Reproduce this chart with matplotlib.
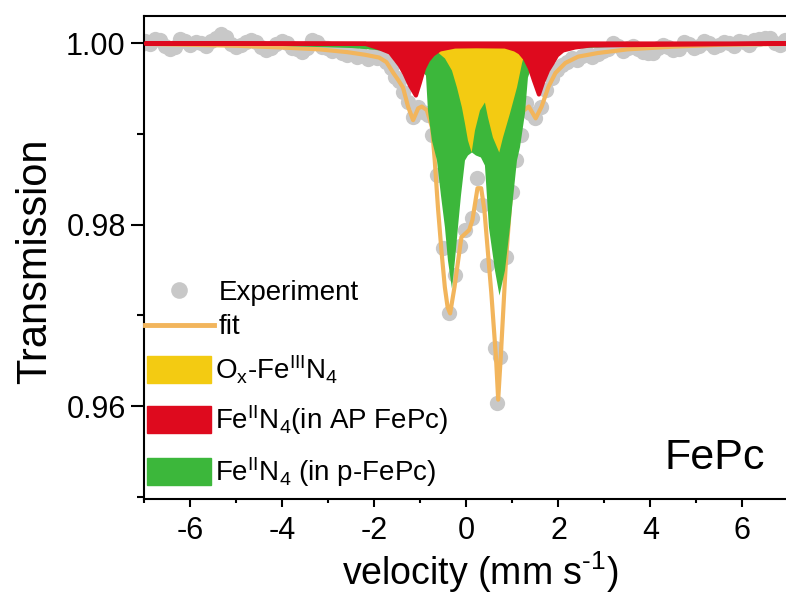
import numpy as np
import matplotlib
matplotlib.use('Agg')
import matplotlib.pyplot as plt
from matplotlib.lines import Line2D
from matplotlib.patches import Patch

plt.rcParams['font.family'] = ['Liberation Sans', 'DejaVu Sans']
plt.rcParams['mathtext.fontset'] = 'custom'
plt.rcParams['mathtext.rm'] = 'Liberation Sans'
plt.rcParams['mathtext.default'] = 'regular'
plt.rcParams['axes.unicode_minus'] = False

#_______________________________________________________________________________
# DATA

# experiment
v_exp = [-7.10, -6.99, -6.88, -6.77, -6.66, -6.55, -6.44, -6.33, -6.22, -6.11,
         -6.00, -5.89, -5.78, -5.67, -5.56, -5.45, -5.34, -5.23, -5.12, -5.01,
         -4.90, -4.79, -4.68, -4.57, -4.46, -4.35, -4.24, -4.13, -4.02, -3.91,
         -3.80, -3.69, -3.58, -3.47, -3.36, -3.25, -3.14, -3.03, -2.92, -2.81,
         -2.70, -2.59, -2.48, -2.37, -2.26, -2.15, -2.04, -1.94, -1.84, -1.74,
         -1.64, -1.55, -1.46, -1.37, -1.27, -1.16, -1.05, -0.94, -0.84, -0.75,
         -0.64, -0.52, -0.37, -0.25, -0.13, -0.03, 0.11, 0.24, 0.34, 0.45,
         0.62, 0.67, 0.73, 0.86, 0.99, 1.08, 1.18, 1.29, 1.38, 1.50,
         1.63, 1.74, 1.86, 1.97, 2.08, 2.19, 2.30, 2.41, 2.52, 2.63,
         2.74, 2.85, 2.96, 3.07, 3.18, 3.29, 3.40, 3.51, 3.62, 3.73,
         3.84, 3.95, 4.06, 4.17, 4.28, 4.39, 4.50, 4.61, 4.72, 4.83,
         4.94, 5.05, 5.16, 5.27, 5.38, 5.49, 5.60, 5.71, 5.82, 5.93,
         6.04, 6.15, 6.26, 6.37, 6.48, 6.59, 6.70, 6.81, 6.92, 7.03]
t_exp = [0.9998, 1.0002, 0.9999, 1.0004, 1.0003, 0.9997, 0.9993, 0.9996, 1.0004, 1.0002,
         0.9998, 1.0001, 1.0000, 0.9997, 1.0002, 1.0006, 1.0010, 1.0007, 0.9999, 0.9996,
         0.9998, 1.0001, 1.0003, 1.0001, 0.9996, 0.9992, 0.9994, 0.9999, 1.0002, 1.0000,
         0.9995, 0.9993, 0.9990, 0.9995, 1.0003, 1.0001, 0.9996, 0.9994, 0.9991, 0.9993,
         0.9989, 0.9987, 0.9990, 0.9985, 0.9987, 0.9982, 0.9987, 0.9984, 0.9985, 0.9979,
         0.9972, 0.9962, 0.9958, 0.9946, 0.9935, 0.9918, 0.9930, 0.9924, 0.9921, 0.9899,
         0.9855, 0.9774, 0.9703, 0.9744, 0.9776, 0.9794, 0.9807, 0.9851, 0.9822, 0.9755,
         0.9664, 0.9603, 0.9654, 0.9764, 0.9836, 0.9871, 0.9899, 0.9934, 0.9923, 0.9917,
         0.9930, 0.9948, 0.9961, 0.9970, 0.9976, 0.9979, 0.9983, 0.9981, 0.9986, 0.9989,
         0.9985, 0.9988, 0.9991, 0.9993, 1.0000, 0.9997, 0.9991, 0.9994, 0.9997, 0.9993,
         0.9990, 0.9989, 0.9989, 0.9994, 0.9998, 0.9996, 0.9992, 0.9993, 1.0001, 0.9999,
         0.9995, 0.9997, 1.0002, 1.0000, 0.9996, 0.9998, 1.0001, 1.0000, 0.9997, 1.0002,
         1.0001, 0.9998, 1.0003, 1.0004, 1.0006, 1.0005, 1.0000, 0.9998, 1.0003, 1.0002]

# fit
v_fit = [-7.0, -6.0, -5.0, -4.0, -3.2, -2.6, -2.2, -1.90, -1.74, -1.59,
         -1.48, -1.38, -1.27, -1.16, -1.05, -0.97, -0.86, -0.75, -0.69, -0.62,
         -0.54, -0.47, -0.41, -0.355, -0.26, -0.11, 0.06, 0.13, 0.24, 0.32,
         0.39, 0.54, 0.645, 0.69, 0.75, 0.86, 0.97, 1.03, 1.075, 1.14,
         1.20, 1.355, 1.505, 1.634, 1.785, 1.935, 2.15, 2.43, 2.86, 3.5,
         4.5, 5.5, 7.0]
t_fit = [0.9999, 0.9998, 0.9997, 0.9995, 0.9993, 0.9990, 0.9987, 0.9984, 0.9979, 0.9967,
         0.9959, 0.9951, 0.9930, 0.9915, 0.9928, 0.9930, 0.9926, 0.9907, 0.9871, 0.9819,
         0.9769, 0.9731, 0.9709, 0.9702, 0.9731, 0.9786, 0.9794, 0.9805, 0.9840, 0.9840,
         0.9816, 0.9725, 0.9651, 0.9607, 0.9658, 0.9761, 0.9836, 0.9871, 0.9896, 0.9915,
         0.9924, 0.9930, 0.9917, 0.9930, 0.9952, 0.9967, 0.9978, 0.9985, 0.9989, 0.9993,
         0.9996, 0.9998, 0.9999]

# Ox-Fe(III)N4
v_ox = [-7.0, -1.0, -0.739, -0.630, -0.478, -0.326, -0.217, -0.109, -0.043, 0.022,
        0.102, 0.174, 0.283, 0.391, 0.457, 0.565, 0.702, 0.783, 0.935, 1.087,
        1.196, 1.261, 1.326, 1.6, 7.0]
t_ox = [1.0, 0.99995, 0.99934, 0.99901, 0.99835, 0.99702, 0.99515, 0.99295, 0.99118, 0.98931,
        0.98799, 0.99041, 0.99262, 0.99350, 0.99185, 0.98964, 0.98799, 0.98964, 0.99229, 0.99515,
        0.99780, 0.99901, 0.99945, 0.99995, 1.0]

# Fe(II)N4 in AP FePc
v_ap = [-7.0, -2.2, -1.891, -1.674, -1.457, -1.348, -1.239, -1.109, -1.022, -0.935,
        -0.848, -0.739, -0.587, -0.261, 0.2, 0.826, 1.043, 1.152, 1.261, 1.37,
        1.457, 1.565, 1.652, 1.761, 1.87, 1.957, 2.087, 2.348, 2.674, 7.0]
t_ap = [1.0, 0.99995, 0.99945, 0.99901, 0.99758, 0.99658, 0.99537, 0.99427, 0.99570, 0.99725,
        0.99813, 0.99879, 0.99934, 0.99967, 0.99970, 0.99967, 0.99934, 0.99901, 0.99835, 0.99725,
        0.99592, 0.99438, 0.99570, 0.99702, 0.99791, 0.99868, 0.99923, 0.99956, 0.99978, 1.0]

# Fe(II)N4 in p-FePc
v_p = [-7.0, -4.5, -3.5, -2.5, -2.0, -1.6, -1.3, -0.891, -0.848, -0.761,
       -0.652, -0.565, -0.478, -0.413, -0.326, -0.261, -0.196, -0.130, -0.043, 0.022,
       0.109, 0.196, 0.304, 0.391, 0.478, 0.609, 0.707, 0.826, 0.935, 1.087,
       1.152, 1.261, 1.326, 1.478, 1.804, 2.348, 3.0, 4.5, 7.0]
t_p = [0.99995, 0.9998, 0.99965, 0.9995, 0.9993, 0.9990, 0.9985, 0.99647, 0.99262, 0.98931,
       0.98711, 0.98325, 0.97973, 0.97609, 0.97300, 0.97609, 0.97973, 0.98325, 0.98711, 0.98766,
       0.98799, 0.98766, 0.98744, 0.98656, 0.97973, 0.97499, 0.97223, 0.97499, 0.97973, 0.98711,
       0.98854, 0.99229, 0.99625, 0.99846, 0.99923, 0.99945, 0.9996, 0.9998, 0.99995]

#_______________________________________________________________________________
# PLOT
c_exp = '#c8c8c8'
c_fit = '#f2b55c'
c_ox = '#f3cb12'
c_ap = '#de0a1e'
c_p = '#3cb73b'

fig = plt.figure(figsize=(7.86, 5.94), dpi=100)
ax = fig.add_axes([0.1838, 0.1594, 0.8193, 0.8145])

ax.plot(v_exp, t_exp, 'o', ms=11, color=c_exp, mec='none', zorder=1)
ax.plot(v_fit, t_fit, '-', lw=3, color=c_fit, zorder=2)
ax.fill_between(v_p, 1.0, t_p, color=c_p, lw=0, zorder=3)
ax.fill_between(v_ox, 1.0, t_ox, color=c_ox, lw=0, zorder=4)
ax.fill_between(v_ap, 1.0, t_ap, facecolor=c_ap, edgecolor=c_ap, lw=3, zorder=5)

ax.set_xlim(-7, 7)
ax.set_ylim(0.94972, 1.00303)
ax.set_xticks([-6, -4, -2, 0, 2, 4, 6])
ax.set_xticks([-7, -5, -3, -1, 1, 3, 5], minor=True)
ax.set_yticks([0.96, 0.98, 1.00])
ax.set_yticks([0.95, 0.97, 0.99], minor=True)
ax.set_yticklabels(['0.96', '0.98', '1.00'])
ax.tick_params(which='both', direction='out', width=1.5, labelsize=22, top=False, right=False)
ax.tick_params(axis='x', which='major', length=5.5, pad=6.5)
ax.tick_params(axis='x', which='minor', length=3)
ax.tick_params(axis='y', which='major', length=9.5, pad=4)
ax.tick_params(axis='y', which='minor', length=5)
for s in ax.spines.values():
    s.set_linewidth(1.5)

ax.set_xlabel(r'velocity (mm s$^{\text{-1}}$)', fontsize=27, va='top')
ax.xaxis.set_label_coords(0.522, -0.103)
ax.set_ylabel('Transmission', fontsize=30)
ax.yaxis.set_label_coords(-0.138, 0.4915)

ax.text(0.886, 0.085, 'FePc', transform=ax.transAxes, ha='center', va='center', fontsize=31)

# legend: points and fit
h1 = [Line2D([], [], marker='o', ls='none', ms=12, color=c_exp, mec='none'),
      Line2D([], [], color=c_fit, lw=3.5)]
leg1 = ax.legend(h1, ['Experiment', 'fit'], loc='center left', bbox_to_anchor=(-0.004, 0.391),
                 frameon=False, fontsize=20, handlelength=2.5, handletextpad=0.15,
                 labelspacing=0.3, borderpad=0.1, borderaxespad=0.0)
ax.add_artist(leg1)

# legend: components
h2 = [Patch(color=c_ox), Patch(color=c_ap), Patch(color=c_p)]
l2 = ['O$_x$-Fe$^{III}$N$_4$', 'Fe$^{II}$N$_4$(in AP FePc)', 'Fe$^{II}$N$_4$ (in p-FePc)']
ax.legend(h2, l2, loc='center left', bbox_to_anchor=(0.0, 0.162), frameon=False,
          fontsize=20, handlelength=2.3, handleheight=1.1, handletextpad=0.15,
          labelspacing=0.64, borderpad=0.1, borderaxespad=0.0)

plt.savefig('out.png', dpi=100)
